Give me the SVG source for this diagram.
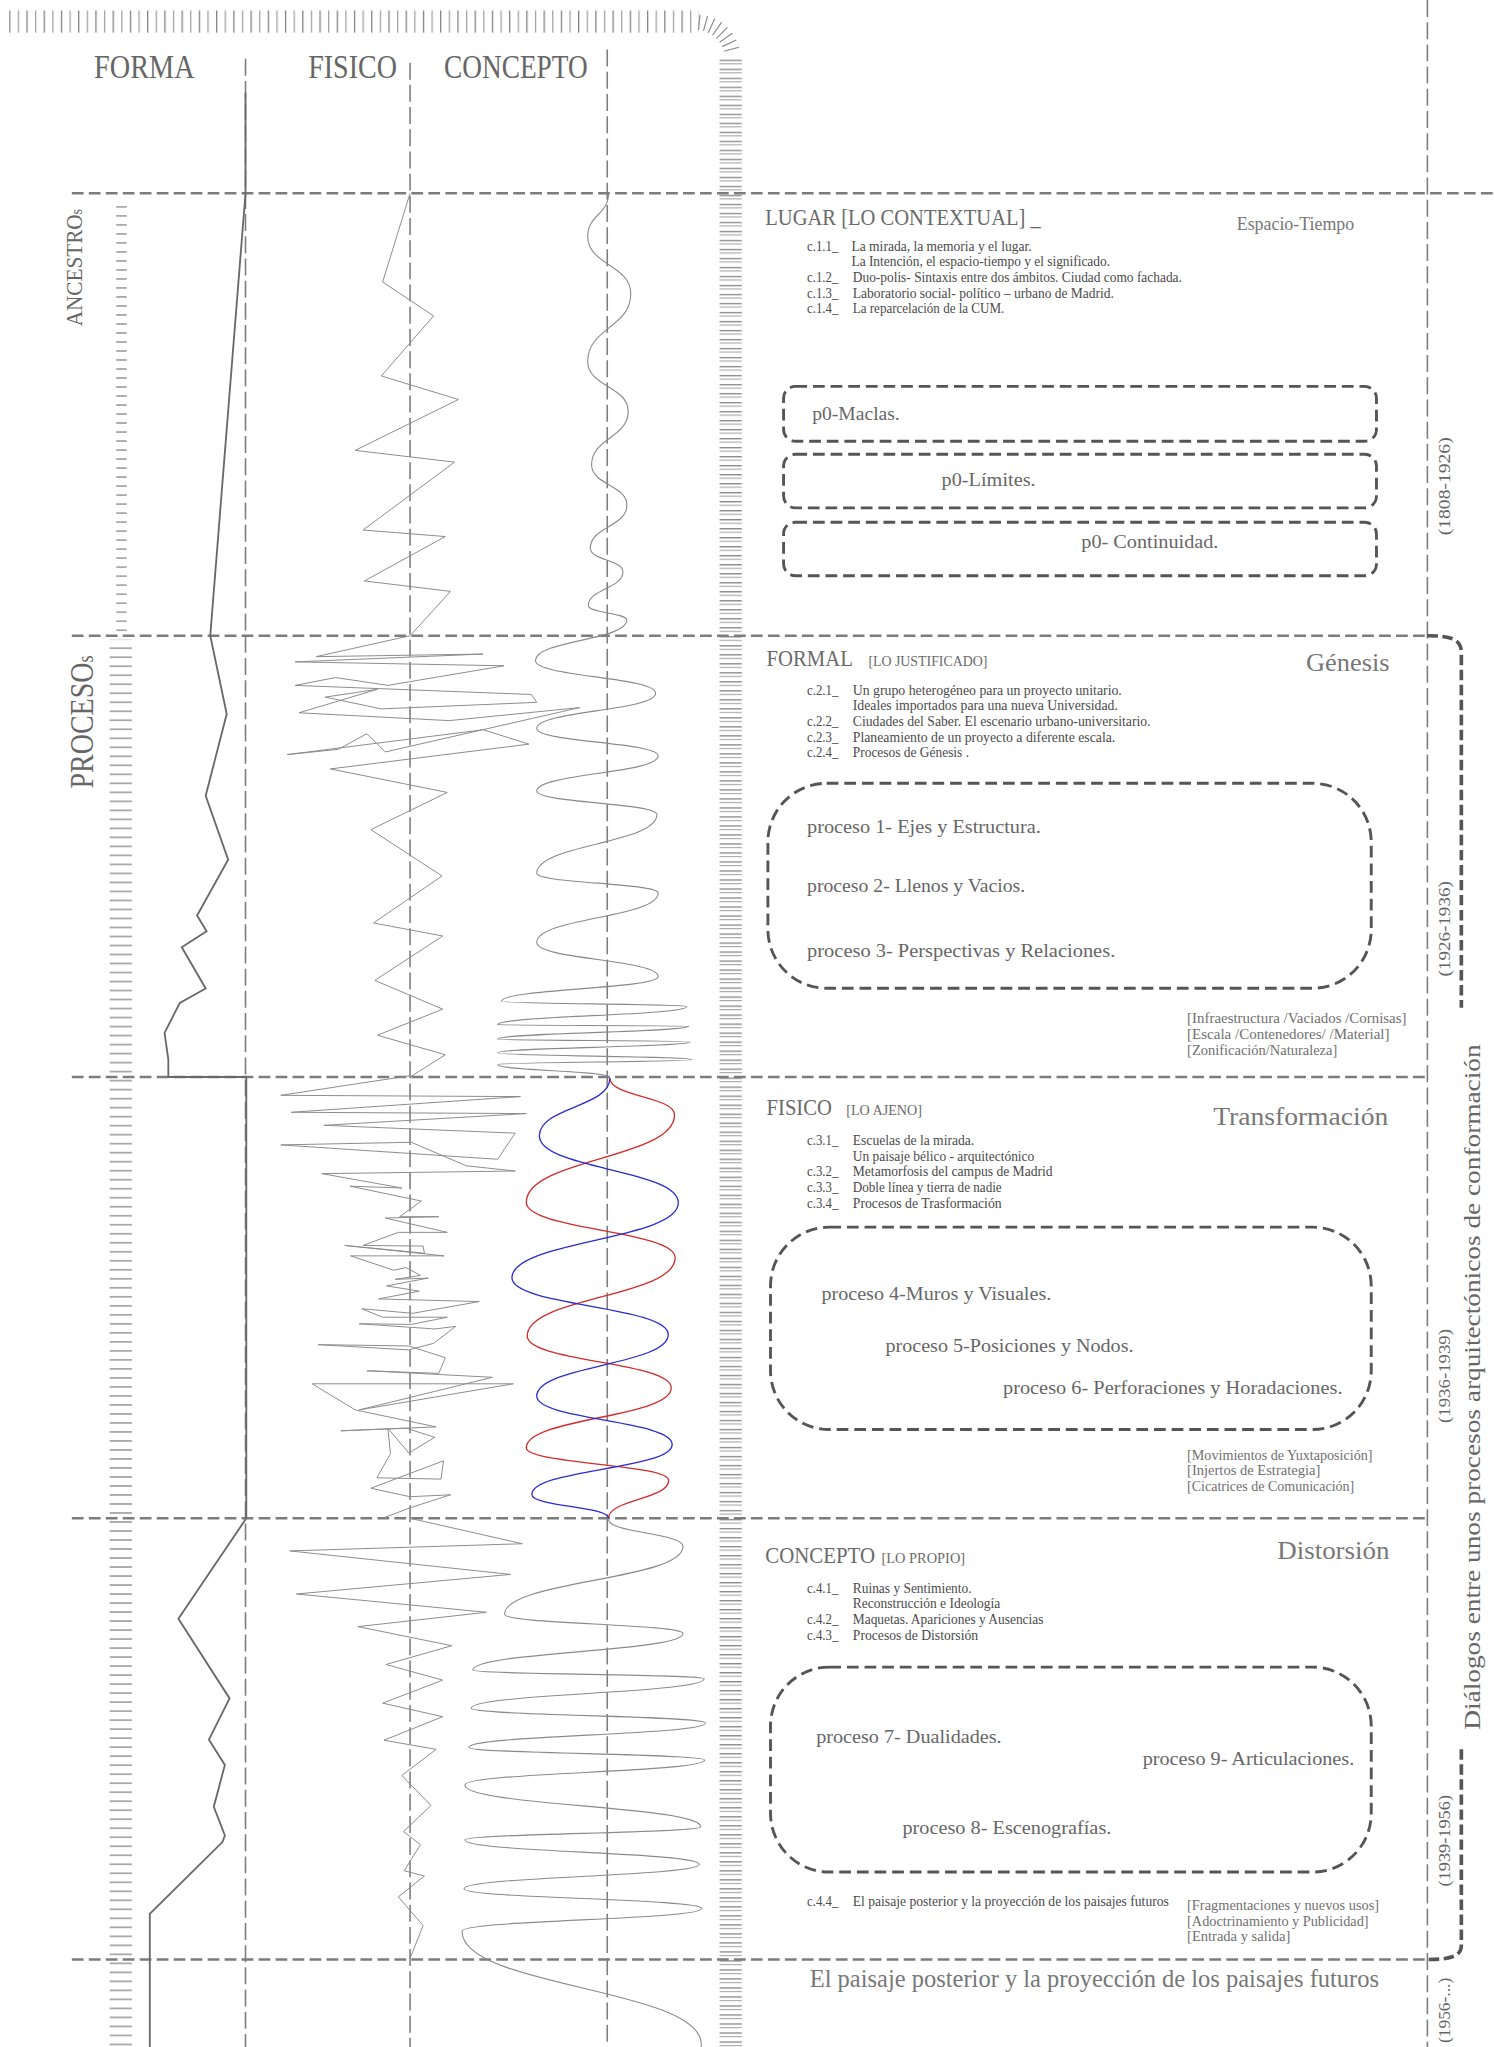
<svg xmlns="http://www.w3.org/2000/svg" width="1494" height="2047" viewBox="0 0 1494 2047">
<defs>
<style>
text{font-family:"Liberation Serif","DejaVu Serif",serif}
.dh{fill:none;stroke:#7c7c7c;stroke-width:1.9;stroke-dasharray:9 4}
.dv{fill:none;stroke:#7c7c7c;stroke-width:1.2;stroke-dasharray:13 4}
.box{fill:none;stroke:#555;stroke-width:2.2;stroke-dasharray:9 4.5}
.brk{fill:none;stroke:#555;stroke-width:2.8;stroke-dasharray:8 3.5}
.zig{fill:none;stroke:#8a8a8a;stroke-width:0.75;stroke-linejoin:miter}
.wav{fill:none;stroke:#8a8a8a;stroke-width:0.85}
.prof{fill:none;stroke:#686868;stroke-width:1.4}
.h1{font-size:25px;fill:#666}
.h2{font-size:18px;fill:#6a6a6a}
.sc{font-size:10.5px;fill:#6a6a6a}
.h3{font-size:20px;fill:#777}
.it{font-size:10.5px;fill:#4a4a4a}
.pr{font-size:14.5px;fill:#666}
.nt{font-size:10.5px;fill:#707070}
.dt{font-size:12.5px;fill:#666}
</style>
<pattern id="pTop" x="7" y="8" width="13.2" height="18" patternUnits="userSpaceOnUse">
<path d="M0.5 0V18" stroke="#777" stroke-width="0.9"/>
<path d="M7.1 0V18" stroke="#9a9a9a" stroke-width="0.9"/>
</pattern>
<pattern id="pLeft" x="0" y="155" width="30" height="6.9" patternUnits="userSpaceOnUse">
<path d="M0 3.4H30" stroke="#8c8c8c" stroke-width="1"/>
</pattern>
<pattern id="pRight" x="0" y="45" width="30" height="6.9" patternUnits="userSpaceOnUse">
<path d="M0 1.2H30" stroke="#8a8a8a" stroke-width="0.9"/>
<path d="M0 3.9H30" stroke="#a8a8a8" stroke-width="0.9"/>
</pattern>
</defs>
<rect width="1494" height="2047" fill="#fff"/>
<g transform="scale(1.30594,1.30548)">

<g id="rulers">
<rect x="7" y="8" width="528" height="17" fill="url(#pTop)"/>
<path d="M534.9 23.1L536 11.1M538.7 23.7L541.8 12.2M542.3 25.1L547.4 14.2M545.6 27L552.5 17.2M548.6 29.4L557 21M551 32.4L560.8 25.5M553 35.7L563.8 30.6M554.3 39.3L565.8 36.2" stroke="#8a8a8a" stroke-width="0.9" fill="none"/>
<rect x="551" y="45" width="17" height="1523" fill="url(#pRight)"/>
<rect x="89" y="155" width="8" height="332" fill="url(#pLeft)"/>
<rect x="84" y="490" width="17" height="1078" fill="url(#pLeft)"/>
</g>

<g id="grid">
<path class="dh" d="M55 148H1144M55 487H1093M55 825H1093M55 1163H1093M55 1501H1093"/>
<path class="dv" d="M188 45V1568M314 48V1568M465 38V1568M1093 0V1568"/>
</g>

<g id="connectors">
<path class="prof" d="M188 71L188 148L161 487L173.6 547L157.5 609.5L174.7 658.5L150.9 701.3L158.2 713.3L139.2 725.6L157.5 757.2L137.7 768.2L126 791.2L128.9 811.6L128.9 825L188.6 825L188.6 1163L136.6 1240L175.8 1301L160 1332.6L172.2 1352L163.7 1384L172.2 1406L170.3 1411L114.7 1466L114.7 1568"/>
<polyline class="zig" points="314,148 293,216 332,242 292,288 351,306 272,345 348,354 278,406 341,411 279,445 345,453 314,487"/>
<polyline class="zig" points="314,487 242,503 370,501 226,507 386,510 297,525 257,519 226,525 407,532 411,538 292,543 249,534 289,528 229,546 344,552 444,542 295,576 281,562 259,574 220,578 370,559 405,570 253,589 342.5,607 284,635.5 338.5,671 286,707 339,717 287,751 339,773 289,793 341,808 314,825"/>
<polyline class="zig" points="314,824 215,839 398.5,840 223,852 403,853 248,862 394.5,868 381,888 215,877 315,875 357,893 394.5,897 246.5,899 307.7,910 268,908.6 322.7,920 306,932 336,932 295,933 342.5,944 305,944 278,954 324,954.5 325,960 264,954 340,962 268.5,962 301.5,973 311,971 322,977 302.6,980 328,979 296,985 321,989 290,995 367,997 316,1006 277,1002.5 293,1009 342.5,1009 315,1014.5 275,1014 333,1018 349,1016 332,1029 313,1034 243.6,1030 313,1031 341,1040 336,1052 281,1050 377,1055 275,1080 393,1060 239,1060 272,1080 334,1093 261,1096 311,1094 333,1101 313,1113 297,1094 299,1113.5 288.6,1132 337.7,1133 339.6,1119 284,1140 314,1146.5 345,1145 314,1155 293,1163"/>
<polyline class="zig" points="314,1163 400,1182.5 222,1188 391,1206 227,1221 372.5,1235 274,1246 346,1260.6 295.6,1275 339,1287 293,1304.6 339,1315 294,1333 334,1340 307.7,1360 330,1383 309,1403 322,1413 309.5,1433 325,1437 305,1453 324,1475 314,1500"/>
<path class="wav" d="M466 148C466 164.5 450 164.5 450 181C450 203 483 203 483 225C483 251 450 251 450 277C450 296 481 296 481 315C481 335.5 453 335.5 453 356C453 371.5 480 371.5 480 387C480 403.5 452 403.5 452 420C452 429 477 429 477 438C477 451 450.5 451 450.5 464C450.5 469.5 480 469.5 480 475C480 490.5 410 490.5 410 506C410 518.5 502 518.5 502 531C502 544.5 411 544.5 411 558C411 568.5 504 568.5 504 579C504 592.5 411 592.5 411 606C411 615 503 615 503 624C503 646.5 411 646.5 411 669C411 676.5 504 676.5 504 684C504 703 411 703 411 722C411 735 504 735 504 748C504 757.5 384 757.5 384 767C384 769 526 769 526 771C526 778 381 778 381 785C381 785.5 527.5 785.5 527.5 786C527.5 791 381 791 381 796C381 797 528.6 797 528.6 798C528.6 802.25 381 802.25 381 806.5C381 809 530 809 530 811.6C530 813.5 381 813.5 381 815.4C381 820.2 466 820.2 466 825"/>
<path fill="none" stroke="#d42a2a" stroke-width="1" d="M467 826C467 840 516.5 840 516.5 854C516.5 887.5 403 887.5 403 921C403 942.25 517 942.25 517 963.5C517 993.45 403.7 993.45 403.7 1023.4C403.7 1043.2 514 1043.2 514 1063C514 1086 403 1086 403 1109C403 1121.5 512 1121.5 512 1134C512 1148.5 466 1148.5 466 1163"/>
<path fill="none" stroke="#2a2ad4" stroke-width="1" d="M467 826C467 848 413 848 413 870C413 895.7 519.4 895.7 519.4 921.4C519.4 950.1 392 950.1 392 978.8C392 1000.5 511.7 1000.5 511.7 1022.2C511.7 1045.8 411 1045.8 411 1069.4C411 1087.9 514.7 1087.9 514.7 1106.4C514.7 1125.5 407.3 1125.5 407.3 1144.7C407.3 1153.9 466 1153.9 466 1163"/>
<path class="wav" d="M466 1164C466 1174.3 523 1174.3 523 1184.6C523 1210.6 386.4 1210.6 386.4 1236.6C386.4 1244 523 1244 523 1251.3C523 1265.3 362 1265.3 362 1279.3C362 1282.6 539.2 1282.6 539.2 1285.9C539.2 1297.25 360.8 1297.25 360.8 1308.6C360.8 1314.2 540.3 1314.2 540.3 1319.8C540.3 1329.15 359 1329.15 359 1338.5C359 1343.3 539.6 1343.3 539.6 1348.1C539.6 1357.7 356 1357.7 356 1367.3C356 1383.3 536.6 1383.3 536.6 1399.3C536.6 1404.35 356 1404.35 356 1409.4C356 1418.75 535.5 1418.75 535.5 1428.1C535.5 1437.4 355.3 1437.4 355.3 1446.7C355.3 1454.3 537.4 1454.3 537.4 1461.9C537.4 1470.6 353.8 1470.6 353.8 1479.3C353.8 1522.6 537 1522.6 537 1566C537 1580 520 1590 510 1600"/>
<path class="brk" d="M1093 487C1110 487 1119 489 1119 500V772M1119 1340V1490C1119 1499 1110 1501 1093 1501"/>
</g>

<g id="headers">
<text class="h1" x="72" y="60" textLength="77" lengthAdjust="spacingAndGlyphs">FORMA</text>
<text class="h1" x="236" y="60" textLength="68" lengthAdjust="spacingAndGlyphs">FISICO</text>
<text class="h1" x="340" y="60" textLength="110" lengthAdjust="spacingAndGlyphs">CONCEPTO</text>
<text transform="translate(63,250) rotate(-90)" font-size="18" fill="#666" textLength="90" lengthAdjust="spacingAndGlyphs">ANCESTRO<tspan font-size="12">s</tspan></text>
<text transform="translate(71,604) rotate(-90)" font-size="26" fill="#666" textLength="102" lengthAdjust="spacingAndGlyphs">PROCESO<tspan font-size="17">s</tspan></text>
</g>

<g id="lugar">
<text class="h2" x="586" y="172" textLength="211" lengthAdjust="spacingAndGlyphs">LUGAR [LO CONTEXTUAL] _</text>
<text x="947" y="176" font-size="14" fill="#777" textLength="90" lengthAdjust="spacingAndGlyphs">Espacio-Tiempo</text>
<text class="it" x="618" y="192" textLength="24" lengthAdjust="spacingAndGlyphs">c.1.1_</text>
<text class="it" x="652" y="192" textLength="138" lengthAdjust="spacingAndGlyphs">La mirada, la memoria y  el lugar.</text>
<text class="it" x="652" y="204" textLength="198" lengthAdjust="spacingAndGlyphs">La Intención, el espacio-tiempo y el significado.</text>
<text class="it" x="618" y="216" textLength="24" lengthAdjust="spacingAndGlyphs">c.1.2_</text>
<text class="it" x="653" y="216" textLength="252" lengthAdjust="spacingAndGlyphs">Duo-polis- Sintaxis entre dos ámbitos. Ciudad como fachada.</text>
<text class="it" x="618" y="228" textLength="24" lengthAdjust="spacingAndGlyphs">c.1.3_</text>
<text class="it" x="653" y="228" textLength="200" lengthAdjust="spacingAndGlyphs">Laboratorio social- político – urbano de Madrid.</text>
<text class="it" x="618" y="240" textLength="24" lengthAdjust="spacingAndGlyphs">c.1.4_</text>
<text class="it" x="653" y="240" textLength="116" lengthAdjust="spacingAndGlyphs">La reparcelación de la CUM.</text>
</g>
<g id="p0-maclas">
<rect class="box" x="600" y="296" width="454" height="42" rx="9"/>
<text class="pr" x="622" y="322" textLength="67" lengthAdjust="spacingAndGlyphs">p0-Maclas.</text>
</g>
<g id="p0-limites">
<rect class="box" x="600" y="348" width="454" height="41" rx="9"/>
<text class="pr" x="721" y="372" textLength="72" lengthAdjust="spacingAndGlyphs">p0-Límites.</text>
</g>
<g id="p0-continuidad">
<rect class="box" x="600" y="400" width="454" height="41" rx="9"/>
<text class="pr" x="828" y="420" textLength="105" lengthAdjust="spacingAndGlyphs">p0- Continuidad.</text>
</g>

<g id="formal">
<text class="h2" x="587" y="510" textLength="66" lengthAdjust="spacingAndGlyphs">FORMAL</text>
<text class="sc" x="665" y="510" textLength="91" lengthAdjust="spacingAndGlyphs">[LO JUSTIFICADO]</text>
<text class="h3" x="1000" y="514" textLength="64" lengthAdjust="spacingAndGlyphs">Génesis</text>
<text class="it" x="618" y="532" textLength="24" lengthAdjust="spacingAndGlyphs">c.2.1_</text>
<text class="it" x="653" y="532" textLength="206" lengthAdjust="spacingAndGlyphs">Un grupo heterogéneo para un proyecto unitario.</text>
<text class="it" x="653" y="544" textLength="203" lengthAdjust="spacingAndGlyphs">Ideales importados para una nueva Universidad.</text>
<text class="it" x="618" y="556" textLength="24" lengthAdjust="spacingAndGlyphs">c.2.2_</text>
<text class="it" x="653" y="556" textLength="228" lengthAdjust="spacingAndGlyphs">Ciudades del Saber. El escenario urbano-universitario.</text>
<text class="it" x="618" y="568" textLength="24" lengthAdjust="spacingAndGlyphs">c.2.3_</text>
<text class="it" x="653" y="568" textLength="201" lengthAdjust="spacingAndGlyphs">Planeamiento de un proyecto a diferente escala.</text>
<text class="it" x="618" y="580" textLength="24" lengthAdjust="spacingAndGlyphs">c.2.4_</text>
<text class="it" x="653" y="580" textLength="89" lengthAdjust="spacingAndGlyphs">Procesos de Génesis .</text>
<text class="nt" x="909" y="784" textLength="168" lengthAdjust="spacingAndGlyphs">[Infraestructura /Vaciados /Cornisas]</text>
<text class="nt" x="909" y="796" textLength="155" lengthAdjust="spacingAndGlyphs">[Escala /Contenedores/ /Material]</text>
<text class="nt" x="909" y="808" textLength="115" lengthAdjust="spacingAndGlyphs">[Zonificación/Naturaleza]</text>
</g>
<g id="procesos-1-3">
<rect class="box" x="588" y="600" width="462" height="157" rx="45"/>
<text class="pr" x="618" y="638" textLength="179" lengthAdjust="spacingAndGlyphs">proceso 1- Ejes y Estructura.</text>
<text class="pr" x="618" y="683" textLength="167" lengthAdjust="spacingAndGlyphs">proceso 2- Llenos y Vacios.</text>
<text class="pr" x="618" y="733" textLength="236" lengthAdjust="spacingAndGlyphs">proceso 3- Perspectivas  y Relaciones.</text>
</g>

<g id="fisico">
<text class="h2" x="587" y="854" textLength="50" lengthAdjust="spacingAndGlyphs">FISICO</text>
<text class="sc" x="648" y="854" textLength="58" lengthAdjust="spacingAndGlyphs">[LO AJENO]</text>
<text class="h3" x="929" y="862" textLength="134" lengthAdjust="spacingAndGlyphs">Transformación</text>
<text class="it" x="618" y="877" textLength="24" lengthAdjust="spacingAndGlyphs">c.3.1_</text>
<text class="it" x="653" y="877" textLength="93" lengthAdjust="spacingAndGlyphs">Escuelas de la mirada.</text>
<text class="it" x="653" y="889" textLength="139" lengthAdjust="spacingAndGlyphs">Un paisaje bélico - arquitectónico</text>
<text class="it" x="618" y="901" textLength="24" lengthAdjust="spacingAndGlyphs">c.3.2_</text>
<text class="it" x="653" y="901" textLength="153" lengthAdjust="spacingAndGlyphs">Metamorfosis del campus de Madrid</text>
<text class="it" x="618" y="913" textLength="24" lengthAdjust="spacingAndGlyphs">c.3.3_</text>
<text class="it" x="653" y="913" textLength="114" lengthAdjust="spacingAndGlyphs">Doble línea y tierra de nadie</text>
<text class="it" x="618" y="925" textLength="24" lengthAdjust="spacingAndGlyphs">c.3.4_</text>
<text class="it" x="653" y="925" textLength="114" lengthAdjust="spacingAndGlyphs">Procesos de Trasformación</text>
<text class="nt" x="909" y="1118" textLength="142" lengthAdjust="spacingAndGlyphs">[Movimientos de Yuxtaposición]</text>
<text class="nt" x="909" y="1130" textLength="102" lengthAdjust="spacingAndGlyphs">[Injertos de Estrategia]</text>
<text class="nt" x="909" y="1142" textLength="128" lengthAdjust="spacingAndGlyphs">[Cicatrices de Comunicación]</text>
</g>
<g id="procesos-4-6">
<rect class="box" x="590" y="940" width="460" height="155" rx="45"/>
<text class="pr" x="629" y="996" textLength="176" lengthAdjust="spacingAndGlyphs">proceso 4-Muros y Visuales.</text>
<text class="pr" x="678" y="1036" textLength="190" lengthAdjust="spacingAndGlyphs">proceso 5-Posiciones y Nodos.</text>
<text class="pr" x="768" y="1068" textLength="260" lengthAdjust="spacingAndGlyphs">proceso 6- Perforaciones y Horadaciones.</text>
</g>

<g id="concepto">
<text class="h2" x="586" y="1197" textLength="84" lengthAdjust="spacingAndGlyphs">CONCEPTO</text>
<text class="sc" x="675" y="1197" textLength="64" lengthAdjust="spacingAndGlyphs">[LO PROPIO]</text>
<text class="h3" x="978" y="1194" textLength="86" lengthAdjust="spacingAndGlyphs">Distorsión</text>
<text class="it" x="618" y="1220" textLength="24" lengthAdjust="spacingAndGlyphs">c.4.1_</text>
<text class="it" x="653" y="1220" textLength="91" lengthAdjust="spacingAndGlyphs">Ruinas y Sentimiento.</text>
<text class="it" x="653" y="1232" textLength="113" lengthAdjust="spacingAndGlyphs">Reconstrucción e Ideología</text>
<text class="it" x="618" y="1244" textLength="24" lengthAdjust="spacingAndGlyphs">c.4.2_</text>
<text class="it" x="653" y="1244" textLength="146" lengthAdjust="spacingAndGlyphs">Maquetas. Apariciones y Ausencias</text>
<text class="it" x="618" y="1256" textLength="24" lengthAdjust="spacingAndGlyphs">c.4.3_</text>
<text class="it" x="653" y="1256" textLength="96" lengthAdjust="spacingAndGlyphs">Procesos de Distorsión</text>
<text class="it" x="618" y="1460" textLength="24" lengthAdjust="spacingAndGlyphs">c.4.4_</text>
<text class="it" x="653" y="1460" textLength="242" lengthAdjust="spacingAndGlyphs">El paisaje posterior y la proyección de los paisajes futuros</text>
<text class="nt" x="909" y="1463" textLength="147" lengthAdjust="spacingAndGlyphs">[Fragmentaciones y nuevos usos]</text>
<text class="nt" x="909" y="1475" textLength="139" lengthAdjust="spacingAndGlyphs">[Adoctrinamiento y Publicidad]</text>
<text class="nt" x="909" y="1487" textLength="79" lengthAdjust="spacingAndGlyphs">[Entrada y salida]</text>
</g>
<g id="procesos-7-9">
<rect class="box" x="590" y="1277" width="460" height="157" rx="45"/>
<text class="pr" x="625" y="1335" textLength="142" lengthAdjust="spacingAndGlyphs">proceso 7- Dualidades.</text>
<text class="pr" x="875" y="1352" textLength="162" lengthAdjust="spacingAndGlyphs">proceso 9- Articulaciones.</text>
<text class="pr" x="691" y="1405" textLength="160" lengthAdjust="spacingAndGlyphs">proceso 8- Escenografías.</text>
</g>

<g id="futuros">
<text x="620" y="1522" font-size="18.5" fill="#777" textLength="436" lengthAdjust="spacingAndGlyphs">El paisaje posterior y la proyección de los paisajes futuros</text>
</g>

<g id="fechas">
<text class="dt" transform="translate(1110,410) rotate(-90)" textLength="75" lengthAdjust="spacingAndGlyphs">(1808-1926)</text>
<text class="dt" transform="translate(1110,748) rotate(-90)" textLength="73" lengthAdjust="spacingAndGlyphs">(1926-1936)</text>
<text class="dt" transform="translate(1110,1090) rotate(-90)" textLength="72" lengthAdjust="spacingAndGlyphs">(1936-1939)</text>
<text class="dt" transform="translate(1110,1445) rotate(-90)" textLength="70" lengthAdjust="spacingAndGlyphs">(1939-1956)</text>
<text class="dt" transform="translate(1110,1565) rotate(-90)" textLength="50" lengthAdjust="spacingAndGlyphs">(1956-...)</text>
</g>
<g id="dialogos">
<text transform="translate(1133,1325) rotate(-90)" font-size="18" fill="#666" textLength="525" lengthAdjust="spacingAndGlyphs">Diálogos entre unos procesos arquitectónicos de conformación</text>
</g>
</g>
</svg>
